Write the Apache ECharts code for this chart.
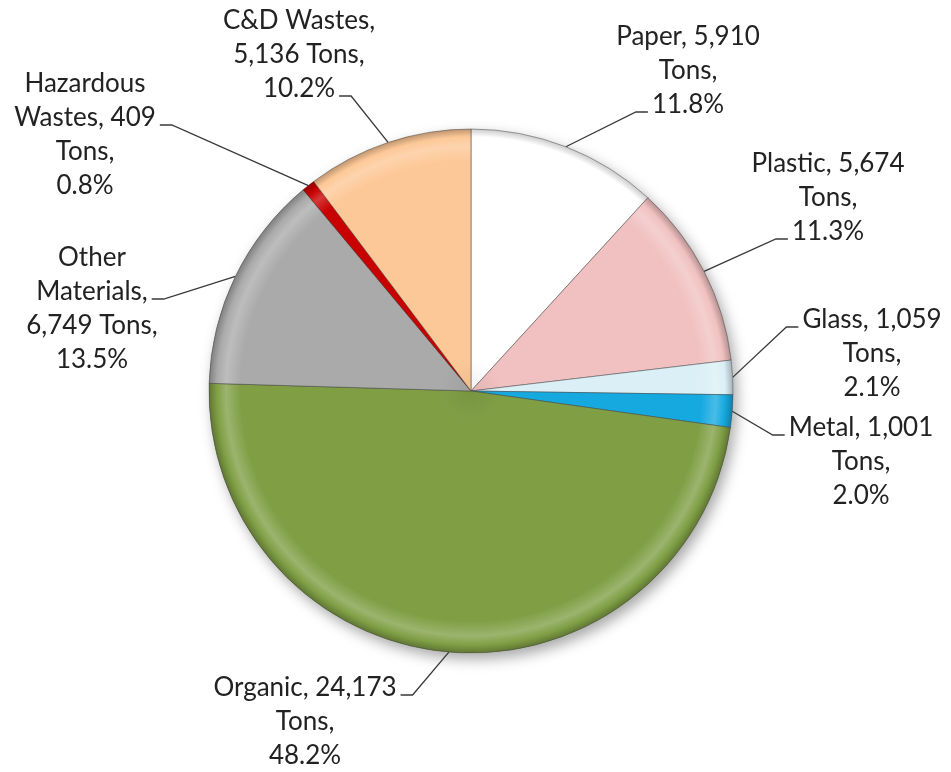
<!DOCTYPE html>
<html>
<head>
<meta charset="utf-8">
<title>Waste Composition</title>
<script src="https://cdn.jsdelivr.net/npm/echarts@6/dist/echarts.min.js"></script>
<style>
  html, body { margin: 0; padding: 0; background: #ffffff; }
  #chart { width: 951px; height: 772px; }
</style>
</head>
<body>
<div id="chart"></div>
<script>
// Waste stream composition, tons per category
const categories = ['Paper', 'Plastic', 'Glass', 'Metal', 'Organic', 'Other Materials', 'Hazardous Wastes', 'C&D Wastes'];
const tons = [5910, 5674, 1059, 1001, 24173, 6749, 409, 5136];

// Label text rows: {n} full name, {n0}/{n1} name words, {v} tons, {p} percent
const labelRows = [
  ['{n}, {v}', 'Tons,', '{p}%'],
  ['{n}, {v}', 'Tons,', '{p}%'],
  ['{n}, {v}', 'Tons,', '{p}%'],
  ['{n}, {v}', 'Tons,', '{p}%'],
  ['{n}, {v}', 'Tons,', '{p}%'],
  ['{n0}', '{n1},', '{v} Tons,', '{p}%'],
  ['{n0}', '{n1}, {v}', 'Tons,', '{p}%'],
  ['{n},', '{v} Tons,', '{p}%']
];

// Slice colours
const sliceColors = ['#ffffff', '#f1c1c1', '#dbeff6', '#16a9e0', '#809f45', '#aaaaaa', '#c80000', '#fdc897'];

// Label placement (block centre) and which row the leader line meets
const labelSpots = [
  { x: 688, y: 71,  side: 'left',  row: 2 },
  { x: 828, y: 198, side: 'left',  row: 2 },
  { x: 872, y: 354, side: 'left',  row: 0 },
  { x: 861, y: 462, side: 'left',  row: 0 },
  { x: 305, y: 722, side: 'right', row: 0 },
  { x: 92,  y: 309, side: 'right', row: 1 },
  { x: 85,  y: 135, side: 'right', row: 1 },
  { x: 299, y: 55,  side: 'right', row: 2 }
];

const CENTER = [471, 391];
const RADIUS = 262;
const FONT_SIZE = 26;
const LINE_H = 34;
const FONT_FAMILY = 'Lato, "Open Sans", sans-serif';
const TEXT_COLOR = '#222222';

const total = tons.reduce((a, b) => a + b, 0);

function fillRow(tpl, i) {
  const words = categories[i].split(' ');
  return tpl
    .replace('{n0}', words[0])
    .replace('{n1}', words.slice(1).join(' '))
    .replace('{n}', categories[i])
    .replace('{v}', tons[i].toLocaleString('en-US'))
    .replace('{p}', (tons[i] / total * 100).toFixed(1));
}
const labelText = labelRows.map((rows, i) => rows.map(r => fillRow(r, i)));

const measureCtx = document.createElement('canvas').getContext('2d');
measureCtx.font = FONT_SIZE + 'px ' + FONT_FAMILY;
function textWidth(s) { return measureCtx.measureText(s).width; }

function mix(hex, target, t) {
  const a = parseInt(hex.slice(1), 16);
  const b = parseInt(target.slice(1), 16);
  const ch = (v, s) => (v >> s) & 255;
  const r = Math.round(ch(a, 16) + (ch(b, 16) - ch(a, 16)) * t);
  const g = Math.round(ch(a, 8) + (ch(b, 8) - ch(a, 8)) * t);
  const bl = Math.round(ch(a, 0) + (ch(b, 0) - ch(a, 0)) * t);
  return 'rgb(' + r + ',' + g + ',' + bl + ')';
}

// Rounded-bevel look: flat face with a soft light band and a darker rim near the outer edge
function bevelFill(base) {
  return {
    type: 'radial', x: CENTER[0], y: CENTER[1], r: RADIUS, global: true,
    colorStops: [
      { offset: 0, color: mix(base, '#000000', 0.06) },
      { offset: 0.12, color: base },
      { offset: 0.88, color: base },
      { offset: 0.935, color: mix(base, '#ffffff', 0.22) },
      { offset: 0.97, color: base },
      { offset: 1, color: mix(base, '#000000', base === '#ffffff' ? 0.2 : 0.25) }
    ]
  };
}

const pieData = categories.map((name, i) => ({
  name: name,
  value: tons[i],
  itemStyle: { color: bevelFill(sliceColors[i]) }
}));

const shadowData = categories.map((name, i) => ({
  name: name,
  value: tons[i],
  itemStyle: { color: sliceColors[i] }
}));

const chart = echarts.init(document.getElementById('chart'), null, { renderer: 'canvas' });

chart.setOption({
  backgroundColor: '#ffffff',
  animation: false,
  series: [
    {
      // soft drop shadow under the pie
      type: 'pie',
      silent: true,
      center: CENTER,
      radius: RADIUS,
      startAngle: 90,
      z: 1,
      label: { show: false },
      labelLine: { show: false },
      itemStyle: {
        shadowBlur: 14,
        shadowOffsetX: 4,
        shadowOffsetY: 6,
        shadowColor: 'rgba(0,0,0,0.35)'
      },
      data: shadowData
    },
    {
      type: 'pie',
      center: CENTER,
      radius: RADIUS,
      startAngle: 90,
      z: 2,
      avoidLabelOverlap: false,
      itemStyle: {
        borderColor: 'rgba(70,70,70,0.5)',
        borderWidth: 1
      },
      label: {
        show: true,
        position: 'outside',
        overflow: 'none',
        color: TEXT_COLOR,
        fontFamily: FONT_FAMILY,
        fontSize: FONT_SIZE,
        lineHeight: LINE_H,
        align: 'center',
        formatter: p => labelText[p.dataIndex].join('\n')
      },
      labelLine: {
        show: true,
        length: 20,
        length2: 12,
        lineStyle: { color: '#3a3a3a', width: 1.3 }
      },
      labelLayout: function (p) {
        const i = p.dataIndex;
        const spot = labelSpots[i];
        const rows = labelText[i];
        const top = spot.y - rows.length * LINE_H / 2;
        const rowY = top + LINE_H * (spot.row + 0.5) + 7;
        const half = textWidth(rows[spot.row]) / 2;
        const endX = spot.side === 'left' ? spot.x - half - 4 : spot.x + half + 4;
        const elbowX = spot.side === 'left' ? endX - 12 : endX + 12;
        const anchor = p.labelLinePoints ? p.labelLinePoints[0] : [CENTER[0], CENTER[1]];
        return {
          x: spot.x,
          y: spot.y,
          align: 'center',
          verticalAlign: 'middle',
          labelLinePoints: [anchor, [elbowX, rowY], [endX, rowY]]
        };
      },
      data: pieData
    }
  ]
});
</script>
</body>
</html>
